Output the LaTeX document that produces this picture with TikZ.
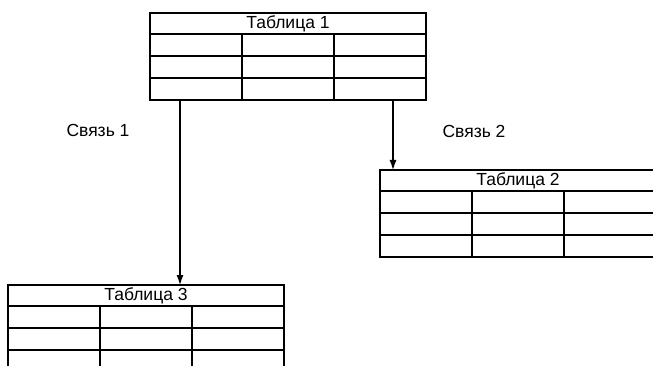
\documentclass[tikz,border=0pt]{standalone}
\usepackage{fontspec}
\setmainfont{Liberation Sans}
\usetikzlibrary{arrows.meta, positioning, calc}
\tikzset{
  tabframe/.style={draw, line width=1.4pt, minimum width=276pt,
    minimum height=87pt, inner sep=0pt, outer sep=0pt},
  tabtext/.style={font=\fontsize{17.5}{20}\selectfont, inner sep=0pt},
  linkarrow/.style={-{Latex[length=10pt,width=7pt]}, line width=1.2pt}
}
\newcommand{\reltable}[4]{%
  \node[tabframe, anchor=north west] (#3) at (#1,#2) {};
  \node[tabtext] (#3-title) at ($(#3.north)+(0,11)$) {#4};
  \draw[line width=1.4pt] (#1,#2+21) -- ++(276,0);
  \draw[line width=1.4pt] (#1,#2+43) -- ++(276,0);
  \draw[line width=1.4pt] (#1,#2+65) -- ++(276,0);
  \draw[line width=1.4pt] (#1+92,#2+21) -- ++(0,66);
  \draw[line width=1.4pt] (#1+184,#2+21) -- ++(0,66);}

\begin{document}
\begin{tikzpicture}[x=1pt, y=-1pt]
  \useasboundingbox (0,0) rectangle (653,366);
  \reltable{150}{13}{tab1}{Таблица 1}
  \reltable{380}{170}{tab2}{Таблица 2}
  \reltable{8}{285}{tab3}{Таблица 3}
  % links
  \coordinate (s1) at ($(tab1.south west)+(30,0)$);
  \coordinate (s2) at ($(tab1.south west)+(243,0)$);
  \draw[linkarrow] (s1) -- (s1 |- tab3.north);
  \draw[linkarrow] (s2) -- (s2 |- tab2.north);
  \node[tabtext] (l1) at (98,130) {Связь 1};
  \node[tabtext] (l2) at (474,131) {Связь 2};
\end{tikzpicture}
\end{document}
